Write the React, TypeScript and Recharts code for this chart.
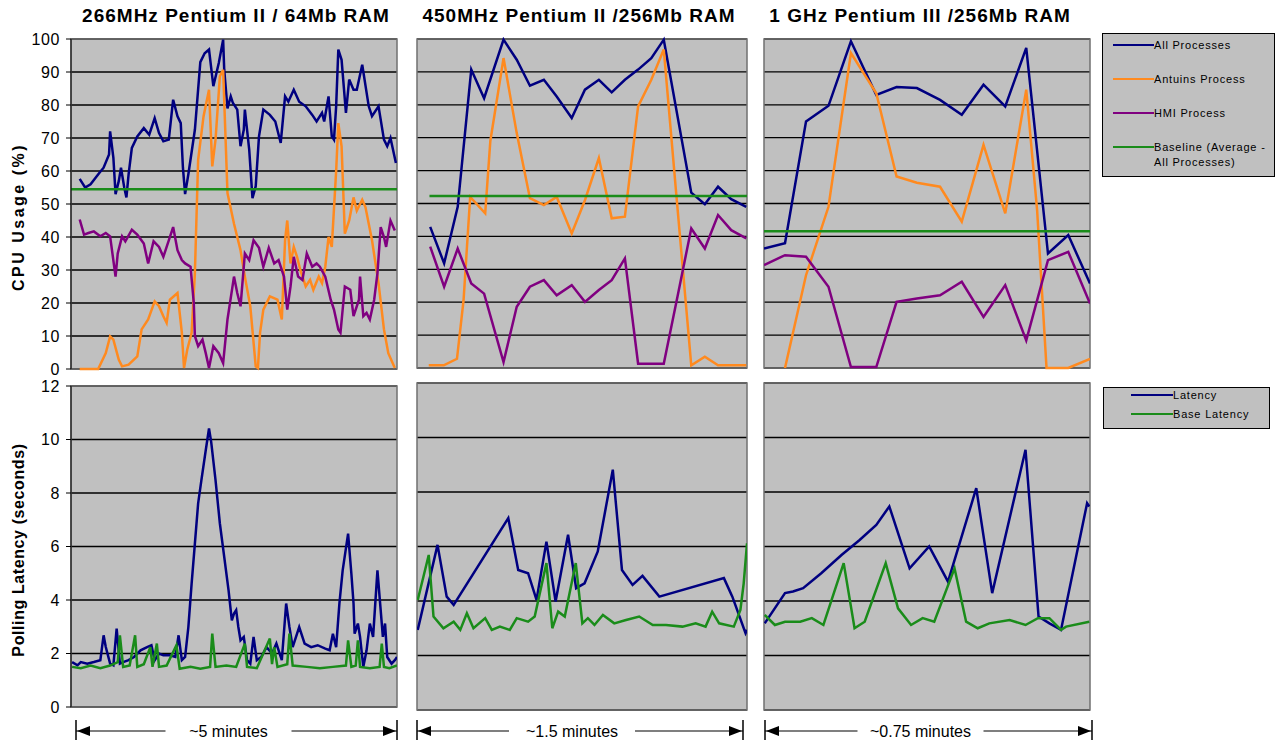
import React from "react";

// Library
import { LineChart, Line, XAxis, YAxis, CartesianGrid, ReferenceArea } from "recharts";

const FONT = "'Liberation Sans', Arial, sans-serif";

// axis ticks
const cpuTicks = [0, 10, 20, 30, 40, 50, 60, 70, 80, 90, 100];
const latencyTicks = [0, 2, 4, 6, 8, 10, 12];

// panel titles and time spans (seconds)
const machineTitles = ["266MHz Pentium II / 64Mb RAM", "450MHz Pentium II /256Mb RAM", "1 GHz Pentium III /256Mb RAM"];
const spanLabels = ["~5 minutes", "~1.5 minutes", "~0.75 minutes"];
const spanSeconds = [300, 90, 45];

// legend names
const cpuNames = ["All Processes", "Antuins Process", "HMI Process", "Baseline (Average - All Processes)"];
const latencyNames = ["Latency", "Base Latency"];

// [seconds, cpu %] - 266MHz
const all266 = [[8,57.6],[13,55],[18,56],[26,59.4],[30,61],[35,65],[36,72],[39,64],[41,53],[44,57],[46,61],[49,55],[51,52],[53,59],[56,67],[61,70.5],[67,73],[72,71],[77,76],[81,71.5],[85,69],[90,69.5],[94,81.6],[98,76.6],[101,74.5],[103,61],[105,53],[108,59],[114,72.5],[119,93],[123,95.7],[127,96.8],[131,85.7],[136,92.7],[140,99.8],[141,90.7],[144,79],[147,82.6],[149,80.6],[153,78.6],[156,67.5],[159,72.5],[160,78.6],[164,66.5],[167,51.8],[170,55.4],[173,70.5],[177,78.6],[183,77],[188,75],[193,68.5],[197,82.6],[200,81],[205,84.6],[210,81],[216,79.6],[222,77],[226,75],[231,77.6],[233,75],[237,82.6],[240,70.5],[242,69.5],[244,79.6],[246,96.8],[249,93.7],[253,77.6],[256,87.7],[260,84.6],[263,84.6],[268,92.2],[274,79.6],[277,76.6],[283,79.6],[288,69.5],[291,67.5],[294,70],[299,62.4]];
const antuins266 = [[8,0],[25,0],[32,4.8],[36,9.9],[39,8.9],[44,2.8],[47,0.8],[53,1.3],[61,3.8],[65,12],[71,15],[77,20.5],[81,19],[85,16],[88,14],[91,21],[98,23],[102,11],[104,0.3],[107,5.9],[111,11],[114,29],[117,63.4],[122,76.6],[127,84.6],[130,61.4],[133,69.5],[137,88.7],[140,90.7],[144,53.3],[150,44],[156,36],[160,28],[165,19],[170,0.8],[172,0.3],[174,11],[177,18],[183,22],[190,21],[194,15],[197,39],[199,45],[202,32],[205,37],[208,34],[211,30],[216,25],[220,27],[223,24],[228,28],[231,26],[234,31],[237,40],[240,37],[244,60],[246,74.5],[249,67.5],[252,41],[256,45],[260,52],[263,48],[268,51.3],[271,49],[277,39],[283,26],[288,12],[292,4.8],[298,0.3]];
const hmi266 = [[8,45.3],[12,40.7],[16,41.2],[21,41.7],[27,40.2],[32,41.2],[36,40.2],[41,28],[43,35],[47,40.2],[50,38.7],[56,42.2],[61,40.7],[67,38],[71,32],[76,38.7],[81,37],[85,34],[90,39],[94,43],[98,36],[102,33],[105,32],[110,31],[113,20],[114,10],[117,6.9],[121,8.9],[124,4.8],[127,0.3],[131,6.9],[136,4.8],[140,1.8],[144,15],[150,28],[153,23],[156,19],[160,35],[164,33],[168,39],[173,36.7],[177,31],[182,36.7],[187,32],[191,33],[196,28],[199,18],[202,25],[205,34],[209,28],[213,27],[217,35],[222,31],[226,32],[229,31],[234,28],[239,21],[242,18],[246,12],[248,11],[252,25],[257,24],[260,16],[265,21],[266,28],[269,16],[272,17],[275,15],[279,21],[282,29],[285,43],[288,40],[290,37],[294,45],[298,42]];
const base266 = [[0,54.5],[300,54.5]];

// [seconds, cpu %] - 450MHz
const all450 = [[3.6,42.9],[7.4,31.8],[11.1,49],[14.8,90.7],[18.3,82],[23.6,99.8],[27.2,93.7],[30.8,85.8],[34.6,87.6],[38.1,82.5],[42.2,76],[45.8,84.6],[49.6,87.6],[53.1,83.8],[56.7,87.6],[60.3,90.7],[63.9,94.2],[67.3,99.8],[74.8,53.3],[78.5,49.8],[82.1,55.1],[85.7,51.3],[89.8,49]];
const antuins450 = [[3.2,0.8],[7.3,0.8],[10.9,2.8],[12.7,20.6],[14.5,52],[18.6,47],[20,69],[23.6,94.2],[27.2,71.4],[30.8,51.6],[34.6,49.5],[38.1,52],[42.2,40.9],[45.8,51],[49.6,63.8],[53.1,45.5],[56.7,46],[60.3,79.5],[63.9,87.6],[67.3,96.8],[70.7,53],[74.8,0.8],[78.5,3.4],[82.1,0.8],[89.8,0.8]];
const hmi450 = [[3.6,36.9],[7.4,24.7],[11.1,36.3],[14.8,25.7],[18.3,22.6],[23.6,1.8],[27.2,18.6],[30.8,24.7],[34.6,26.7],[38.1,22.1],[42.2,25.2],[45.8,20.1],[49.6,23.7],[53.1,26.7],[56.7,33.3],[60.3,1.3],[67.3,1.3],[71.2,22.6],[74.8,42.4],[78.5,36.3],[82.1,46.5],[85.7,41.9],[89.8,39.4]];
const base450 = [[3.4,52.3],[90,52.3]];

// [seconds, cpu %] - 1GHz
const all1g = [[0,36.3],[2.9,37.9],[5.8,74.9],[8.9,79.7],[12,99.3],[15.5,83],[18.3,85.4],[21.1,85.1],[24.3,81.5],[27.3,77],[30.3,86.1],[33.3,79.5],[36.2,97.3],[39.2,34.8],[42,40.4],[45,25.7]];
const antuins1g = [[2.9,0],[5.8,28.2],[8.9,49],[12,95.7],[15.5,83.5],[18.3,58.2],[21.1,56.3],[24.3,55.1],[27.3,44.5],[30.3,67.8],[33.3,47],[36.2,84.6],[37.7,48],[39,0],[42,0],[45,2.8]];
const hmi1g = [[0,31.3],[2.9,34.3],[5.8,33.8],[8.9,24.7],[12,0.3],[15.5,0.3],[18.3,20.1],[21.1,21.1],[24.3,22.1],[27.3,26.2],[30.3,15.5],[33.3,25.2],[36.2,8.4],[39.2,32.8],[42,35.3],[45,19.6]];
const base1g = [[0,41.6],[45,41.6]];

// [seconds, latency s]
const lat266 = [[1,1.68],[6,1.56],[9,1.68],[15,1.62],[21,1.68],[27,1.75],[30,2.68],[32,2.24],[36,1.62],[39,1.56],[42,2.93],[45,1.62],[48,1.68],[53,1.75],[58,1.87],[64,2.12],[70,2.24],[74,2.31],[77,1.75],[81,2],[85,1.93],[91,1.93],[96,1.87],[99,2.68],[102,1.75],[105,1.87],[108,2.99],[111,4.61],[114,6.11],[117,7.61],[120,8.48],[124,9.6],[127,10.41],[129,9.91],[133,8.48],[137,6.86],[141,5.61],[145,4.36],[148,3.24],[150,3.49],[152,3.62],[154,2.99],[156,2.49],[159,2.62],[162,1.75],[165,1.62],[168,2.62],[171,1.75],[175,1.87],[180,2.24],[185,2],[189,2.37],[194,1.75],[198,3.87],[201,2.99],[204,2.24],[210,2.99],[215,2.37],[221,2.24],[227,2.31],[234,2.18],[238,2.12],[241,2.74],[244,2.24],[247,3.87],[250,5.11],[255,6.48],[258,4.99],[260,3.87],[261,2.74],[264,3.12],[266,2.62],[269,1.5],[272,2.12],[275,3.12],[278,2.62],[282,5.11],[284,4.11],[287,2.62],[289,3.12],[291,1.87],[295,1.62],[298,1.75],[300,1.87]];
const baseLat266 = [[1,1.5],[9,1.45],[18,1.55],[27,1.45],[36,1.55],[43,1.68],[45,2.68],[48,1.5],[54,1.55],[59,2.68],[61,1.5],[67,1.6],[73,2.24],[75,1.5],[79,2.37],[81,1.5],[88,1.55],[97,2.31],[100,1.43],[110,1.5],[119,1.43],[128,1.5],[130,2.74],[133,1.5],[143,1.55],[152,1.5],[160,2.37],[162,1.5],[171,1.45],[183,2.56],[185,1.6],[187,2.24],[190,1.5],[199,1.6],[201,2.74],[204,1.55],[217,1.5],[229,1.45],[241,1.5],[253,1.55],[255,2.49],[258,1.5],[262,1.55],[264,2.49],[266,1.5],[275,1.45],[284,1.5],[286,2.37],[288,1.5],[293,1.45],[300,1.55]];
const lat450 = [[0.2,2.94],[5.6,6.06],[8.1,4.16],[10,3.86],[24.9,7.04],[27.6,5.14],[30.3,5.02],[32.6,4.04],[35.3,6.18],[37.8,3.98],[41.2,6.43],[43.4,4.47],[45.7,4.65],[49.3,5.82],[53.4,8.82],[55.9,5.14],[58.8,4.59],[61.5,4.92],[66.1,4.16],[83.7,4.84],[86,4.16],[89.6,2.82],[90,2.94]];
const baseLat450 = [[0.2,4.04],[3.2,5.69],[4.5,3.43],[7.2,3],[10,3.24],[11.8,2.94],[13.6,3.55],[15.4,3],[18.6,3.37],[20.4,2.94],[22.6,3.06],[25.3,2.94],[27.2,3.37],[30.3,3.24],[32.1,3.43],[35.3,5.39],[36.9,3],[38.5,3.61],[40.3,3.43],[43.3,5.39],[45.1,3.18],[46.6,3.37],[48.4,3.12],[50.7,3.49],[53.8,3.18],[57,3.3],[60.6,3.43],[64.3,3.12],[67.9,3.12],[72.4,3.06],[76,3.18],[78.7,3.06],[80.5,3.61],[82.4,3.18],[86.4,3.06],[88.2,3.67],[89.1,4.65],[90,6.12]];
const lat1g = [[0.1,3.18],[2.9,4.29],[4,4.35],[5.4,4.47],[7.9,5.02],[10.7,5.69],[13.2,6.24],[15.5,6.79],[17.3,7.47],[20.1,5.2],[22.8,6],[25.4,4.71],[29.3,8.14],[31.5,4.29],[36.1,9.55],[37.9,3.43],[39.4,3.18],[41,2.94],[44.6,7.59],[44.9,7.47]];
const baseLat1g = [[0.1,3.49],[1.5,3.12],[2.9,3.24],[5,3.24],[6.6,3.37],[8.2,3.12],[11,5.39],[12.5,3],[13.9,3.24],[16.8,5.39],[18.5,3.73],[20.3,3.12],[21.9,3.37],[23.5,3.24],[26.3,5.2],[27.9,3.24],[29.5,3],[31.1,3.18],[33.9,3.3],[36.1,3.12],[37.8,3.37],[39.4,3.37],[41,2.94],[41.7,3.06],[44.9,3.24]];

const cpuColors = ["#000080", "#FF8A1F", "#800080", "#1A8C1A"];
const latencyColors = ["#000080", "#1A8C1A"];

type Series = { name: string; color: string; pts: number[][] };

interface PanelProps {
  left: number;
  top: number;
  width: number;
  height: number;
  duration: number;
  yMax: number;
  ticks: number[];
  series: Series[];
  showAxis?: boolean;
}

function Panel({ left, top, width, height, duration, yMax, ticks, series, showAxis = false }: PanelProps) {
  const ml = showAxis ? 55 : 4;
  const pad = 12;
  return (
    <div style={{ position: "absolute", left: left - ml, top: top - pad }}>
      <LineChart
        width={width + ml + pad}
        height={height + pad * 2}
        margin={{ top: pad, right: pad, bottom: pad, left: showAxis ? 0 : ml }}
      >
        <CartesianGrid vertical={false} stroke="#000" strokeWidth={1.3} fill="#C0C0C0" fillOpacity={1} />
        <XAxis type="number" dataKey="t" domain={[0, duration]} hide allowDataOverflow />
        <YAxis
          type="number"
          domain={[0, yMax]}
          ticks={ticks}
          interval={0}
          hide={!showAxis}
          width={ml}
          stroke="#000"
          tickSize={5}
          tickMargin={6}
          tick={{ fill: "#000", fontSize: 16, fontFamily: FONT, letterSpacing: 0.6 }}
        />
        <ReferenceArea x1={0} x2={duration} y1={0} y2={yMax} fill="none" stroke="#707070" strokeWidth={1.5} />
        {series.map((s) => (
          <Line
            key={s.name}
            data={s.pts.map(([t, v]) => ({ t, v }))}
            dataKey="v"
            name={s.name}
            type="linear"
            stroke={s.color}
            strokeWidth={2.5}
            dot={false}
            activeDot={false}
            isAnimationActive={false}
          />
        ))}
      </LineChart>
    </div>
  );
}

function TimeSpan({ x1, x2, y, label }: { x1: number; x2: number; y: number; label: string }) {
  const mid = (x1 + x2) / 2 - 8;
  const gap = 63;
  return (
    <g>
      <line x1={x1} y1={y - 11} x2={x1} y2={y + 9} stroke="#000" strokeWidth={1.5} />
      <line x1={x2} y1={y - 11} x2={x2} y2={y + 9} stroke="#000" strokeWidth={1.5} />
      <line x1={x1} y1={y} x2={mid - gap} y2={y} stroke="#000" strokeWidth={1.2} />
      <line x1={mid + gap} y1={y} x2={x2} y2={y} stroke="#000" strokeWidth={1.2} />
      <polygon points={`${x1 + 1},${y} ${x1 + 14},${y - 5} ${x1 + 14},${y + 5}`} fill="#000" />
      <polygon points={`${x2 - 1},${y} ${x2 - 14},${y - 5} ${x2 - 14},${y + 5}`} fill="#000" />
      <text x={mid} y={y + 6} textAnchor="middle" fontSize={16} fontFamily={FONT} fill="#000">
        {label}
      </text>
    </g>
  );
}

function LegendBox({ left, top, width, names, colors, lineX, lineW, rowGap, firstY }: {
  left: number; top: number; width: number; names: string[]; colors: string[];
  lineX: number; lineW: number; rowGap: number; firstY: number;
}) {
  return (
    <div
      style={{
        position: "absolute", left, top, width,
        background: "#C0C0C0", border: "1px solid #000", boxSizing: "border-box",
        paddingBottom: 6,
      }}
    >
      {names.map((n, i) => (
        <div key={n} style={{ position: "relative", display: "flex", alignItems: "flex-start", marginTop: i === 0 ? firstY : rowGap }}>
          <div style={{ marginLeft: lineX, width: lineW, height: 2, background: colors[i], marginTop: 6 }} />
          <div style={{ fontFamily: FONT, fontSize: 11, letterSpacing: 0.8, lineHeight: "15px", color: "#000", width: width - lineX - lineW - 4 }}>
            {n}
          </div>
        </div>
      ))}
    </div>
  );
}

function RotLabel({ cx, cy, text, spacing }: { cx: number; cy: number; text: string; spacing: number }) {
  return (
    <div
      style={{
        position: "absolute", left: cx - 150, top: cy - 10, width: 300, height: 20,
        textAlign: "center", transform: "rotate(-90deg)", fontFamily: FONT,
        fontWeight: "bold", fontSize: 16, letterSpacing: spacing, lineHeight: "20px", color: "#000",
      }}
    >
      {text}
    </div>
  );
}

const cpuSets = [
  [all266, antuins266, hmi266, base266],
  [all450, antuins450, hmi450, base450],
  [all1g, antuins1g, hmi1g, base1g],
];
const latSets = [
  [lat266, baseLat266],
  [lat450, baseLat450],
  [lat1g, baseLat1g],
];

// plot frames for each column
const cols = [
  { left: 71, width: 326, title: 236, topTop: 39, topH: 330, botTop: 386, botH: 321 },
  { left: 417, width: 330, title: 579, topTop: 39, topH: 329, botTop: 383, botH: 327 },
  { left: 764, width: 326, title: 920, topTop: 39, topH: 329, botTop: 383, botH: 327 },
];

export default function App() {
  return (
    <div style={{ position: "absolute", left: 0, top: 0, width: 1281, height: 740, background: "#fff", overflow: "hidden" }}>
      {cols.map((c, i) => (
        <div
          key={"t" + i}
          style={{
            position: "absolute", left: c.title - 200, top: 5, width: 400, textAlign: "center",
            fontFamily: FONT, fontWeight: "bold", fontSize: 19, letterSpacing: 1, color: "#000",
          }}
        >
          {machineTitles[i]}
        </div>
      ))}

      {cols.map((c, i) => (
        <Panel
          key={"cpu" + i}
          left={c.left}
          top={c.topTop}
          width={c.width}
          height={c.topH}
          duration={spanSeconds[i]}
          yMax={100}
          ticks={cpuTicks}
          showAxis={i === 0}
          series={cpuSets[i].map((pts, k) => ({ name: cpuNames[k], color: cpuColors[k], pts }))}
        />
      ))}

      {cols.map((c, i) => (
        <Panel
          key={"lat" + i}
          left={c.left}
          top={c.botTop}
          width={c.width}
          height={c.botH}
          duration={spanSeconds[i]}
          yMax={12}
          ticks={latencyTicks}
          showAxis={i === 0}
          series={latSets[i].map((pts, k) => ({ name: latencyNames[k], color: latencyColors[k], pts }))}
        />
      ))}

      <RotLabel cx={19} cy={217} text="CPU Usage (%)" spacing={2.5} />
      <RotLabel cx={19} cy={550} text="Polling Latency (seconds)" spacing={0.6} />

      <svg width={1281} height={740} style={{ position: "absolute", left: 0, top: 0, pointerEvents: "none" }}>
        <TimeSpan x1={76} x2={397} y={731} label={spanLabels[0]} />
        <TimeSpan x1={417} x2={743} y={731} label={spanLabels[1]} />
        <TimeSpan x1={765} x2={1092} y={731} label={spanLabels[2]} />
      </svg>

      <LegendBox left={1102} top={33} width={173} names={cpuNames} colors={cpuColors} lineX={10} lineW={41} rowGap={19} firstY={4} />
      <LegendBox left={1103} top={387} width={167} names={latencyNames} colors={latencyColors} lineX={27} lineW={42} rowGap={4} firstY={0} />
    </div>
  );
}
